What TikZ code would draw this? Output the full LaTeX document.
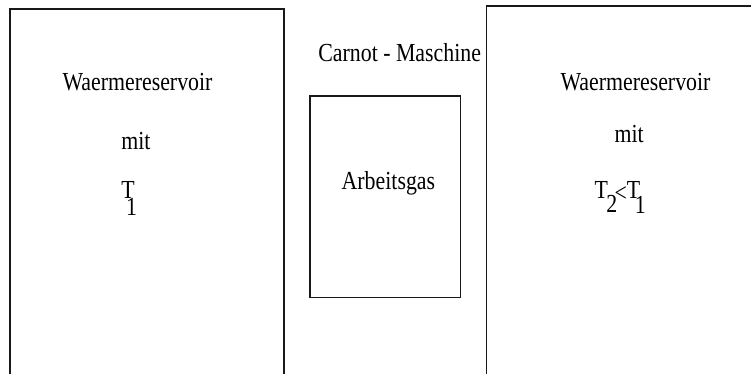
\documentclass[tikz,border=0pt]{standalone}
\usepackage{fontspec}
\setmainfont{Liberation Serif}[FakeStretch=0.84]
\begin{document}
\begin{tikzpicture}[x=1pt,y=-1pt,
  frame/.style={draw=black!90,line width=1.4pt,rectangle,inner sep=0pt,outer sep=0pt,anchor=north west},
  lbl/.style={inner sep=0pt,outer sep=0pt,anchor=base west,font=\fontsize{26}{31}\selectfont}]
\useasboundingbox (0,0) rectangle (751,373);
\clip (0,0) rectangle (751,373);
\fill[white] (0,0) rectangle (751,373);
\node[frame,minimum width=274pt,minimum height=380pt] (leftres) at (10,9) {};
\node[frame,minimum width=280pt,minimum height=380pt] (rightres) at (486.5,6) {};
\node[frame,minimum width=150.5pt,minimum height=201.5pt] (gas) at (310,96) {};
% left reservoir
\node[lbl] (lw) at (62.6,90) {Waermereservoir};
\node[lbl] (lm) at (121.3,149) {mit};
\node[lbl] (lt) at (121.3,198) {T\kern-8.6pt\raisebox{-17.5pt}{1}};
% middle
\node[lbl] (carnot) at (318.4,61) {Carnot - Maschine};
\node[lbl] (arbeit) at (341.7,189) {Arbeitsgas};
% right reservoir
\node[lbl] (rw) at (560.6,90) {Waermereservoir};
\node[lbl] (rm) at (614.6,142) {mit};
\node[lbl] (rt) at (594.6,198) {T\kern-1.6pt\raisebox{-14.5pt}{2}\kern-2.6pt\raisebox{-3pt}{<}T\kern-5.4pt\raisebox{-15.5pt}{1}};
\end{tikzpicture}
\end{document}
